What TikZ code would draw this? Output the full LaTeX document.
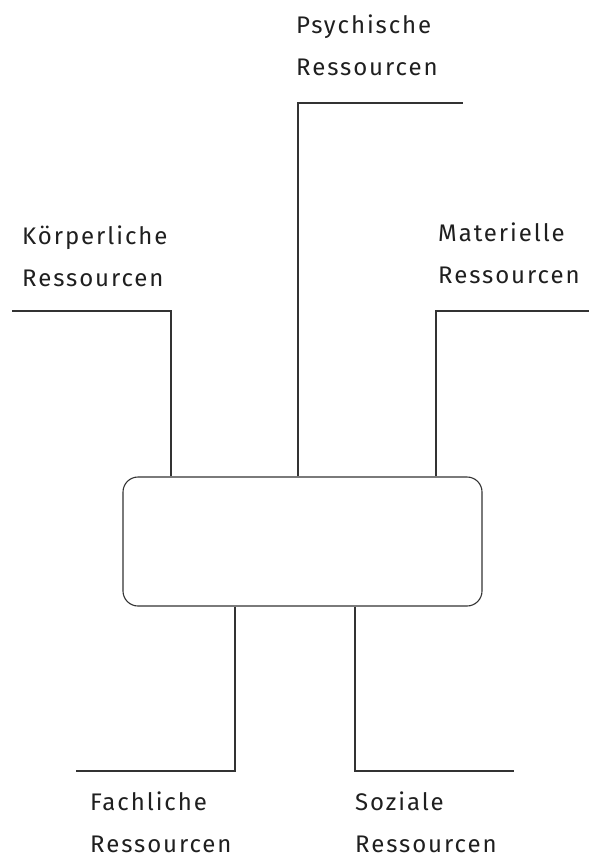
\documentclass[tikz,border=0pt]{standalone}
\usepackage{fontspec}
\setmainfont{Fira Sans}[LetterSpace=8]
\begin{document}
\begin{tikzpicture}[x=1pt,y=-1pt,
  line/.style={draw=black!80,line width=1.1pt},
  lbl/.style={anchor=base west,inner sep=0pt,align=left,font=\fontsize{24}{42}\selectfont,text=black!88},
  core/.style={draw=black!80,line width=1.1pt,rounded corners=15pt,minimum width=359pt,minimum height=129pt,inner sep=0pt}]
\useasboundingbox (0,0) rectangle (589,861);
\node[core] (box) at (302.5,541.5) {};
% labels (anchored at the baseline of their last line)
\node[lbl] (psy) at (296,76) {Psychische\\Ressourcen};
\node[lbl] (koe) at (22,286) {Körperliche\\Ressourcen};
\node[lbl] (mat) at (438,283) {Materielle\\Ressourcen};
\node[lbl] (fac) at (90,852) {Fachliche\\Ressourcen};
\node[lbl] (soz) at (355,852) {Soziale\\Ressourcen};
% connector ends
\coordinate (psyE) at (463,103);
\coordinate (koeE) at (12,311);
\coordinate (matE) at (589,311);
\coordinate (facE) at (76,771);
\coordinate (sozE) at (514,771);
\draw[line] (box.north -| 298,0) |- (psyE);
\draw[line] (box.north -| 171,0) |- (koeE);
\draw[line] (box.north -| 436,0) |- (matE);
\draw[line] (box.south -| 235,0) |- (facE);
\draw[line] (box.south -| 355,0) |- (sozE);
\end{tikzpicture}
\end{document}
